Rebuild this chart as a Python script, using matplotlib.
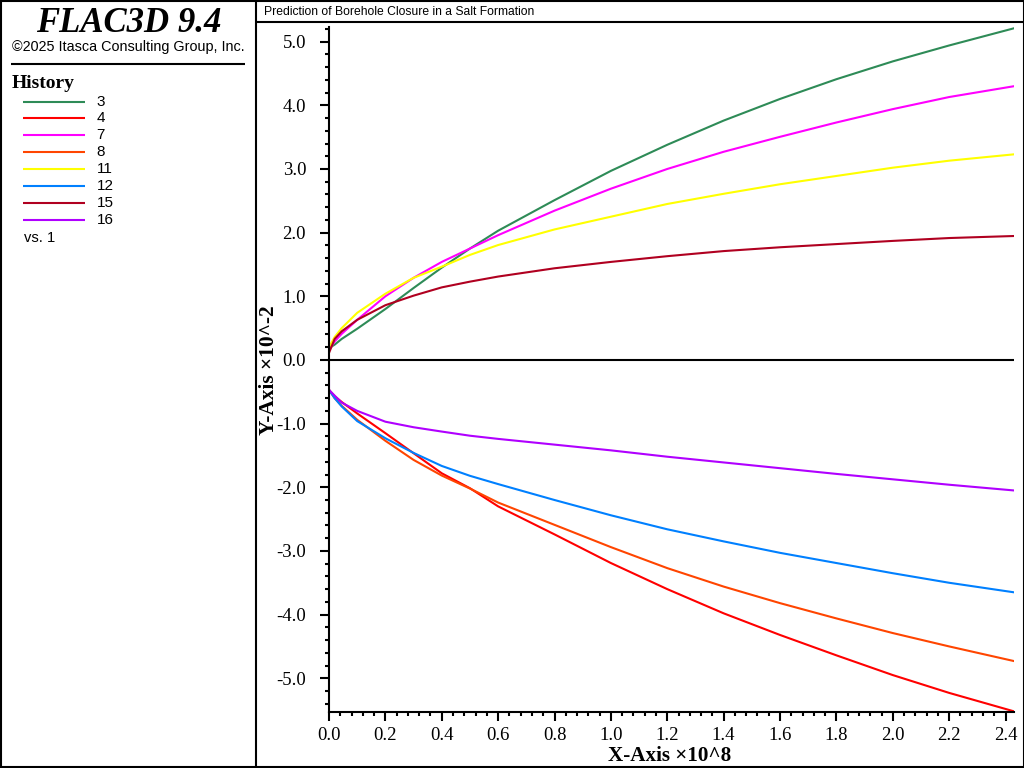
import matplotlib
matplotlib.use("Agg")
import matplotlib.pyplot as plt
from matplotlib.lines import Line2D
from matplotlib.ticker import MultipleLocator, FormatStrFormatter

W, H = 1024, 768
SERIF = "Liberation Serif"
SANS = "Liberation Sans"

# ---------------- data ----------------
x_vals = [0.0, 0.0, 0.02, 0.045, 0.1, 0.2, 0.3, 0.4, 0.5, 0.6, 0.8, 1.0, 1.2, 1.4, 1.6, 1.8, 2.0, 2.2, 2.43]

h3 = [0.185, 0.185, 0.24, 0.33, 0.49, 0.80, 1.13, 1.45, 1.75, 2.03, 2.51, 2.97, 3.38, 3.76, 4.10, 4.41, 4.69, 4.94, 5.21]
h4 = [-0.47, -0.47, -0.57, -0.66, -0.84, -1.15, -1.465, -1.78, -2.015, -2.30, -2.74, -3.19, -3.60, -3.98, -4.32, -4.64, -4.95, -5.23, -5.52]
h7 = [0.157, 0.157, 0.29, 0.41, 0.63, 1.00, 1.29, 1.54, 1.75, 1.96, 2.345, 2.69, 3.00, 3.27, 3.505, 3.73, 3.94, 4.13, 4.30]
h8 = [-0.47, -0.47, -0.60, -0.72, -0.94, -1.27, -1.57, -1.816, -2.02, -2.24, -2.59, -2.94, -3.27, -3.56, -3.82, -4.06, -4.29, -4.50, -4.73]
h11 = [0.20, 0.20, 0.36, 0.50, 0.74, 1.04, 1.29, 1.465, 1.65, 1.805, 2.05, 2.25, 2.45, 2.61, 2.76, 2.89, 3.02, 3.13, 3.23]
h12 = [-0.47, -0.47, -0.60, -0.73, -0.96, -1.23, -1.46, -1.665, -1.82, -1.95, -2.20, -2.44, -2.66, -2.85, -3.03, -3.19, -3.35, -3.50, -3.65]
h15 = [0.33, 0.11, 0.33, 0.45, 0.63, 0.86, 1.01, 1.14, 1.23, 1.31, 1.44, 1.54, 1.63, 1.71, 1.77, 1.82, 1.87, 1.915, 1.947]
h16 = [-0.235, -0.47, -0.56, -0.67, -0.80, -0.97, -1.057, -1.125, -1.19, -1.24, -1.33, -1.42, -1.52, -1.61, -1.70, -1.79, -1.875, -1.96, -2.05]

labels = ["3", "4", "7", "8", "11", "12", "15", "16"]
colors = ["#2e8b57", "#ff0000", "#ff00ff", "#ff4500", "#ffff00", "#0080ff", "#b00020", "#b000ff"]
series = [h3, h4, h7, h8, h11, h12, h15, h16]

fig = plt.figure(figsize=(W / 100, H / 100), dpi=100, facecolor="white")

def fx(px):
    return px / W

def fy(py):
    return 1 - py / H

# ---------------- frame and panels ----------------
def frame_line(x0, y0, x1, y1, lw=1.5):
    fig.add_artist(Line2D([fx(x0), fx(x1)], [fy(y0), fy(y1)], color="black", lw=lw,
                          solid_capstyle="butt"))

frame_line(0.5, 0, 0.5, H)
frame_line(W - 0.5, 0, W - 0.5, H)
frame_line(0, 0.5, W, 0.5)
frame_line(0, H - 1, W, H - 1)
frame_line(256, 0, 256, H)
frame_line(256, 21.5, W, 21.5)
frame_line(11, 64, 245, 64)

fig.text(fx(128.5), fy(19), "FLAC3D 9.4", family=SERIF, weight="bold", style="italic",
         fontsize=25, ha="center", va="center_baseline")
fig.text(fx(128), fy(46), "\u00a92025 Itasca Consulting Group, Inc.", family=SANS,
         fontsize=10.4, ha="center", va="center_baseline")
fig.text(fx(12), fy(82), "History", family=SERIF, weight="bold", fontsize=14,
         ha="left", va="center_baseline")
fig.text(fx(264), fy(10.5), "Prediction of Borehole Closure in a Salt Formation",
         family=SANS, fontsize=8.7, ha="left", va="center_baseline")

# ---------------- legend ----------------
for n, (lab, col) in enumerate(zip(labels, colors)):
    py = 101.5 + n * 16.95
    fig.add_artist(Line2D([fx(23), fx(85)], [fy(py), fy(py)], color=col, lw=1.5,
                          solid_capstyle="butt"))
    fig.text(fx(96.5), fy(py - 1.5), lab, family=SANS, fontsize=11, ha="left", va="center_baseline")
fig.text(fx(24), fy(236.5), "vs. 1", family=SANS, fontsize=10.6, ha="left", va="center_baseline")

# ---------------- plot ----------------
ax = fig.add_axes([fx(329), fy(712), fx(1014 - 329), (712 - 27) / H])
for vals, col in zip(series, colors):
    ax.plot(x_vals, vals, color=col, lw=1.5, clip_on=True)

ax.set_xlim(0, 2.43)
ax.set_ylim(-5.53, 5.23)
ax.axhline(0, color="black", lw=1.5, zorder=5)

for side in ["top", "right"]:
    ax.spines[side].set_visible(False)
for side in ["left", "bottom"]:
    ax.spines[side].set_linewidth(1.5)

ax.xaxis.set_major_locator(MultipleLocator(0.2))
ax.xaxis.set_minor_locator(MultipleLocator(0.04))
ax.yaxis.set_major_locator(MultipleLocator(1.0))
ax.yaxis.set_minor_locator(MultipleLocator(0.2))
ax.xaxis.set_major_formatter(FormatStrFormatter("%.1f"))
ax.yaxis.set_major_formatter(FormatStrFormatter("%.1f"))
ax.tick_params(which="major", length=6.5, width=1.5, labelsize=13.5)
ax.tick_params(which="minor", length=3.2, width=1.5)
ax.tick_params(axis="y", which="major", pad=10)
ax.tick_params(axis="x", which="major", pad=4)
for t in ax.get_xticklabels() + ax.get_yticklabels():
    t.set_family(SERIF)

fig.text(fx(670), fy(753.5), "X-Axis \u00d710^8", family=SERIF, weight="bold", fontsize=15.2,
         ha="center", va="center_baseline")
fig.text(fx(269), fy(370), "Y-Axis \u00d710^-2", family=SERIF, weight="bold", fontsize=15.4,
         rotation=90, ha="center", va="center")

fig.savefig("out.png", dpi=100)
